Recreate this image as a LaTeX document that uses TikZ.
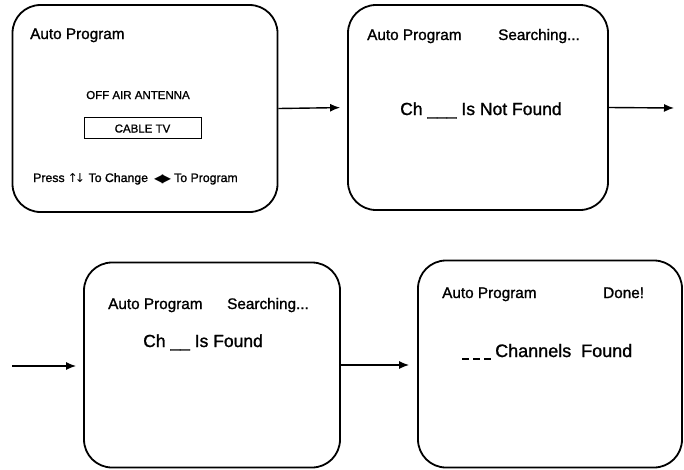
\documentclass[tikz,border=0pt]{standalone}
\usepackage{fontspec}
\setmainfont{Liberation Sans}[FakeBold=1.2]
\newfontfamily\symfont{DejaVu Sans}
\usetikzlibrary{arrows.meta}
\tikzset{
  screen/.style={draw, line width=1.8pt, rounded corners=28pt, inner sep=0pt},
  flow/.style={line width=1.4pt, -{Latex[length=10pt,width=8pt]}},
  lbl/.style={inner sep=0pt, anchor=base west},
  big/.style={font=\fontsize{15.3}{17}\selectfont},
  mid/.style={font=\fontsize{17.5}{19}\selectfont},
  small/.style={font=\fontsize{12.3}{14}\selectfont},
  tiny/.style={font=\fontsize{11.5}{13}\selectfont},
}
\newcommand{\blankdash}{\rule[-2.5pt]{7pt}{1.3pt}}
\begin{document}
\begin{tikzpicture}[x=1pt,y=-1pt]
\useasboundingbox (0,0) rectangle (684,469);
% screens
\node[screen, minimum width=265pt, minimum height=207pt] (s1) at (145,108.5) {};
\node[screen, minimum width=260pt, minimum height=205pt] (s2) at (478,107.5) {};
\node[screen, minimum width=256pt, minimum height=205pt] (s3) at (212,365) {};
\node[screen, minimum width=264pt, minimum height=207pt] (s4) at (550,364) {};
% screen 1
\node[lbl, big] (t1) at (30,39) {Auto Program};
\node[inner sep=0pt, anchor=base, tiny] (t1b) at (138,99) {OFF AIR ANTENNA};
\node[draw, line width=1pt, minimum width=117pt, minimum height=21pt, inner sep=0pt] (cab) at (142.5,127.5) {};
\node[inner sep=0pt, anchor=base, tiny] (cabt) at (142.5,132.5) {CABLE TV};
\node[lbl, small] (t1c) at (33,182) {Press {\symfont\kern-0.5pt↑\kern-3pt↓} To Change};
\node[lbl, small] (t1d) at (154,182) {{\symfont\fontsize{12}{14}\selectfont ◀\kern-1.5pt▶}\kern3pt To Program};
% screen 2
\node[lbl, big] (t2) at (367,40) {Auto Program};
\node[lbl, big] (t2b) at (498,40) {Searching...};
\node[lbl, mid] (t2c) at (400,115) {Ch \_\_\_ Is Not Found};
% screen 3
\node[lbl, big] (t3) at (108,309) {Auto Program};
\node[lbl, big] (t3b) at (227,309) {Searching...};
\node[lbl, mid] (t3c) at (143,347) {Ch \_\_ Is Found};
% screen 4
\node[lbl, big] (t4) at (442,298) {Auto Program};
\node[lbl, big] (t4b) at (603,298) {Done!};
\node[lbl, font=\fontsize{18}{20}\selectfont] (t4c) at (462,357) {\blankdash\kern4pt\blankdash\kern4pt\blankdash\kern4pt Channels\ \ Found};
% connectors
\coordinate (e2) at (674,108);
\coordinate (b3) at (12,366);
\draw[flow, shorten >=7pt] (s1.east) -- (s2.west);
\draw[flow] (s2.east) -- (e2);
\draw[flow, shorten >=7pt] (b3) -- (b3 -| s3.west);
\draw[flow, shorten >=8pt] (s3.east) -- (s3.east -| s4.west);
\end{tikzpicture}
\end{document}
